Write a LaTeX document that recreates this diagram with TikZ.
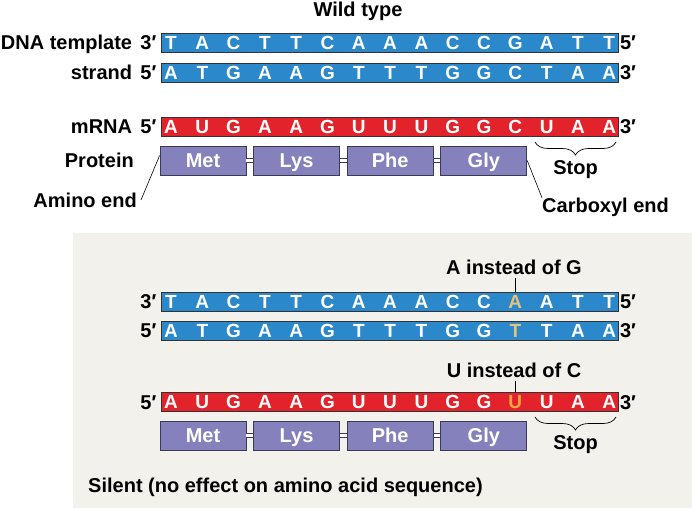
\documentclass[tikz,border=0pt]{standalone}
\usepackage{fontspec}
\setmainfont{Liberation Sans}
\usetikzlibrary{positioning,decorations.pathreplacing}

\definecolor{dnablue}{HTML}{2B88CA}
\definecolor{rnared}{HTML}{E3232B}
\definecolor{protpurple}{HTML}{8481BD}
\definecolor{boxedge}{HTML}{3A3A55}
\definecolor{panel}{HTML}{F3F1EC}
\definecolor{mutgold}{HTML}{E6C17B}
\definecolor{mutorange}{HTML}{F7A541}

\newcommand\lblfont{\fontsize{20}{23}\selectfont\bfseries}
\newcommand\nucfont{\fontsize{19}{21}\selectfont\bfseries}
\newcommand\aafont{\fontsize{20}{22}\selectfont\bfseries}

\begin{document}
\begin{tikzpicture}[x=1pt,y=-1pt]
\tikzstyle{every node}+=[inner sep=0pt]
\tikzstyle{lbl}=[font=\lblfont, text height=14pt, text depth=0pt]
\tikzstyle{note}=[lbl, inner ysep=4pt]
\tikzstyle{strand}=[draw=black!80, line width=0.8pt, minimum width=457pt, minimum height=19pt]
\tikzstyle{dnabar}=[strand, fill=dnablue]
\tikzstyle{rnabar}=[strand, fill=rnared]
\tikzstyle{base}=[font=\nucfont, text=white, text height=13.5pt, text depth=0pt]
\tikzstyle{residue}=[draw=boxedge, line width=0.8pt, fill=protpurple, minimum width=86pt, minimum height=29pt, font=\aafont, text=white, text height=14pt, text depth=0pt]
\tikzstyle{bond}=[draw=boxedge, double=white, double distance=2.4pt, line width=1pt]
\tikzstyle{stopbrace}=[decorate, decoration={brace, mirror, amplitude=13pt}, line width=0.7pt]
\tikzstyle{pointer}=[line width=0.6pt]

\useasboundingbox (0,0) rectangle (692,508);

% wild type
\node[lbl] (wild) at (358,10) {Wild type};

\node[dnabar] (tpl) at (389.5,43) {};
\node[dnabar] (cod) at (389.5,72.5) {};
\node[rnabar] (mrna) at (389.5,126.5) {};

\foreach \b [count=\i from 0] in {T,A,C,T,T,C,A,A,A,C,C,G,A,T,T}
  \node[base] (tpl\i) at (171+31.3*\i,43) {\b};
\foreach \b [count=\i from 0] in {A,T,G,A,A,G,T,T,T,G,G,C,T,A,A}
  \node[base] (cod\i) at (171+31.3*\i,72.5) {\b};
\foreach \b [count=\i from 0] in {A,U,G,A,A,G,U,U,U,G,G,C,U,A,A}
  \node[base] (mrna\i) at (171+31.3*\i,126.5) {\b};

\node[lbl, left=4pt of tpl] (tplleft) {3′};
\node[lbl, right=1.5pt of tpl] (tplright) {5′};
\node[lbl, left=8pt of tplleft] (tplname) {DNA template};
\node[lbl, left=4pt of cod] (codleft) {5′};
\node[lbl, right=1.5pt of cod] (codright) {3′};
\node[lbl, anchor=east] (strandname) at (tplname.east |- cod) {strand};
\node[lbl, left=4pt of mrna] (mrnaleft) {5′};
\node[lbl, right=1.5pt of mrna] (mrnaright) {3′};
\node[lbl, left=8pt of mrnaleft] (mrnaname) {mRNA};

\node[residue] (met) at (203,160.5) {Met};
\node[residue, right=6.8pt of met] (lys) {Lys};
\node[residue, right=6.8pt of lys] (phe) {Phe};
\node[residue, right=6.8pt of phe] (gly) {Gly};
\node[lbl, anchor=east] (protname) at (134,160.5) {Protein};

\path
  (met) edge[bond] (lys)
  (lys) edge[bond] (phe)
  (phe) edge[bond] (gly)
;

\node[lbl, anchor=east, inner xsep=4pt] (aminoend) at (141,200) {Amino end};
\node[lbl, anchor=west] (carbend) at (542,205) {Carboxyl end};
\draw[pointer] ([yshift=5pt]met.west) -- (aminoend.east);
\draw[pointer] (gly.east) -- (carbend.north west);

\coordinate (stopl) at (535,142);
\coordinate (stopr) at (616,142);
\draw[stopbrace] (stopl) -- (stopr) node[lbl, midway, below=18pt] (stop) {Stop};

% silent mutation
\fill[panel] (73,233) rectangle (692,508);

\node[note] (agnote) at (514,267) {A instead of G};
\node[dnabar] (mtpl) at (389.5,301.5) {};
\node[dnabar] (mcod) at (389.5,330.5) {};
\node[note] (ucnote) at (514,370) {U instead of C};
\node[rnabar] (mmrna) at (389.5,402) {};

\foreach \b [count=\i from 0] in {T,A,C,T,T,C,A,A,A,C,C,A,A,T,T} {
  \ifnum\i=11 \def\tint{mutgold}\else\def\tint{white}\fi
  \node[base, text=\tint] (mtpl\i) at (171+31.3*\i,301.5) {\b};
}
\foreach \b [count=\i from 0] in {A,T,G,A,A,G,T,T,T,G,G,T,T,A,A} {
  \ifnum\i=11 \def\tint{mutgold}\else\def\tint{white}\fi
  \node[base, text=\tint] (mcod\i) at (171+31.3*\i,330.5) {\b};
}
\foreach \b [count=\i from 0] in {A,U,G,A,A,G,U,U,U,G,G,U,U,A,A} {
  \ifnum\i=11 \def\tint{mutorange}\else\def\tint{white}\fi
  \node[base, text=\tint] (mmrna\i) at (171+31.3*\i,402) {\b};
}

\node[lbl, left=4pt of mtpl] (mtplleft) {3′};
\node[lbl, right=1.5pt of mtpl] (mtplright) {5′};
\node[lbl, left=4pt of mcod] (mcodleft) {5′};
\node[lbl, right=1.5pt of mcod] (mcodright) {3′};
\node[lbl, left=4pt of mmrna] (mmrnaleft) {5′};
\node[lbl, right=1.5pt of mmrna] (mmrnaright) {3′};

\draw[pointer] (agnote.south -| mtpl11) -- (mtpl.north -| mtpl11);
\draw[pointer] (ucnote.south -| mmrna11) -- (mmrna.north -| mmrna11);

\node[residue] (mmet) at (203,435.5) {Met};
\node[residue, right=6.8pt of mmet] (mlys) {Lys};
\node[residue, right=6.8pt of mlys] (mphe) {Phe};
\node[residue, right=6.8pt of mphe] (mgly) {Gly};

\path
  (mmet) edge[bond] (mlys)
  (mlys) edge[bond] (mphe)
  (mphe) edge[bond] (mgly)
;

\coordinate (mstopl) at (535,417);
\coordinate (mstopr) at (616,417);
\draw[stopbrace] (mstopl) -- (mstopr) node[lbl, midway, below=18pt] (mstop) {Stop};

\node[lbl, anchor=west] (silent) at (88,485) {Silent (no effect on amino acid sequence)};
\end{tikzpicture}
\end{document}
